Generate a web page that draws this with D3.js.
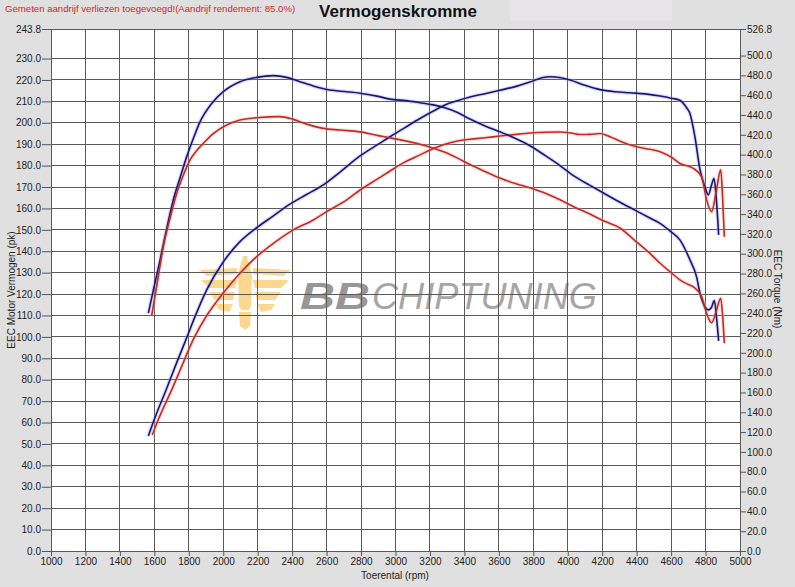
<!DOCTYPE html>
<html>
<head>
<meta charset="utf-8">
<script src="https://cdn.jsdelivr.net/npm/d3@7"></script>
<style>
html,body{margin:0;padding:0;background:#e0e0e0;}
svg{display:block;font-family:"Liberation Sans",Arial,sans-serif;}
</style>
</head>
<body>
<svg id="chart" width="795" height="587"></svg>
<script>
// ---------- DATA ----------
const rpmTicks = d3.range(1000, 5001, 200);
const pkTicks = d3.range(0, 231, 10).concat([243.8]);
const nmTicks = d3.range(0, 501, 20).concat([526.8]);

// Tuned (blue) power, pk
const bluePowerRpm = [1565,1600,1672,1720,1797,1826,1904,2000,2097,2194,2291,2387,2484,2581,2678,2794,2900,2968,3050,3142,3220,3287,3360,3432,3520,3606,3700,3780,3850,3900,3960,4013,4100,4187,4274,4361,4450,4536,4600,4651,4690,4709,4738,4768,4797,4816,4835,4849,4862,4876];
const bluePowerPk  = [53.7,61.5,76,86,101.5,107.5,122,135,144.5,151,156.5,162,166.5,171,177,184.5,190,193.5,197.5,202,205.5,208.3,210.3,212,213.6,215.2,217,219,221,221.5,221,220,217.5,215.5,214.5,214,213.5,212.5,211.5,210.5,207,204.4,193.5,178,170,166.3,171,174,165,147.6];

// Stock (red) power, pk
const redPowerRpm = [1588,1620,1710,1760,1826,1904,2000,2097,2194,2291,2407,2523,2600,2717,2794,2900,2968,3050,3142,3220,3287,3360,3432,3520,3606,3700,3780,3870,3955,4020,4071,4130,4187,4230,4274,4330,4390,4450,4536,4600,4651,4729,4777,4806,4835,4862,4888,4899,4909];
const redPowerPk  = [54.2,60.8,77,86.5,98.8,110,120.5,129.7,137.5,143.7,150,154.6,158.5,164,168.6,174,177.5,181.5,185,188,190,191.5,192.3,193,193.8,194.6,195.2,195.6,195.7,195.2,194.5,194.6,195,194,192.5,190.5,189,188,186.5,184,181,178.7,174.8,164,158.5,168,178,165,146.8];

// Tuned (blue) torque, Nm
const blueTorqueRpm = [1565,1600,1633,1670,1710,1750,1788,1830,1865,1933,2000,2097,2194,2291,2368,2445,2523,2620,2717,2794,2900,2968,3060,3142,3220,3287,3360,3432,3520,3606,3700,3780,3870,3955,4040,4129,4210,4303,4390,4477,4536,4600,4651,4709,4748,4768,4797,4816,4835,4851,4864,4876];
const blueTorqueNm  = [240,267.7,293.6,324,354.4,377,398,418,433,451.6,463.5,473.6,478,479.7,478,473.6,469.3,465.2,463.5,462,458.8,456,454.5,452.4,450.2,447.3,442.5,436,429,423,416,409,399,389,378,369,361,352,344,336,330.6,322,314,294,276.6,260,246.3,243.3,246,252.8,235,212];

// Stock (red) torque, Nm
const redTorqueRpm = [1585,1620,1652,1690,1730,1770,1807,1845,1884,1942,2020,2097,2194,2329,2407,2484,2581,2678,2794,2900,2968,3060,3142,3220,3287,3360,3432,3520,3606,3700,3780,3870,3955,4040,4129,4210,4303,4390,4477,4536,4600,4651,4700,4729,4777,4806,4835,4862,4888,4899,4909];
const redTorqueNm  = [238,274,307,335,361,380,394.6,404,411.4,421.3,430,435,437.3,438.4,435.6,430.8,426.5,424.8,423,419.2,417,413.8,410.5,406.5,402.5,396.5,390,383,376.4,370.6,366.5,361,354.4,347,340.1,333,326,313.3,300.3,290.4,281,273.6,269,266.6,256.7,239.8,230.3,242,255,237.7,209.6];

// ---------- LAYOUT ----------
const svg = d3.select("#chart");
const W = 795, H = 587;
const m = {left:51, right:740, top:29, bottom:551};

const x = d3.scaleLinear().domain([1000,5000]).range([m.left, m.right]);
const yPk = d3.scaleLinear().domain([0,243.8]).range([m.bottom, m.top]);
const yNm = d3.scaleLinear().domain([0,526.8]).range([m.bottom, m.top]);

svg.append("rect").attr("width",W).attr("height",H).attr("fill","#e0e0e0");
svg.append("rect").attr("x",510).attr("y",0).attr("width",162).attr("height",21).attr("fill","#e7e5e7");

// plot area
svg.append("rect").attr("x",m.left).attr("y",m.top)
  .attr("width",m.right-m.left).attr("height",m.bottom-m.top).attr("fill","#ffffff");

// ---------- WATERMARK ----------
const wm = svg.append("g").attr("class","watermark");
const em = wm.append("g").attr("transform","translate(245,296)").attr("fill","#fbd384").attr("opacity",0.9);
em.append("path").attr("d","M-46,-26 L-8,-28 L-8,-22 L-38,-20 Z");
em.append("path").attr("d","M46,-26 L8,-28 L8,-22 L38,-20 Z");
em.append("path").attr("d","M-44,-16 L-8,-16 L-10,-8 L-36,-8 Z");
em.append("path").attr("d","M44,-16 L8,-16 L10,-8 L36,-8 Z");
em.append("path").attr("d","M-36,-4 L-10,-4 L-12,4 L-30,4 Z");
em.append("path").attr("d","M36,-4 L10,-4 L12,4 L30,4 Z");
em.append("path").attr("d","M-30,8 L-12,8 L-16,16 L-26,14 Z");
em.append("path").attr("d","M30,8 L12,8 L16,16 L26,14 Z");
em.append("path").attr("d","M-4,-34 L4,-34 L7,-20 L6,10 L4,14 L-4,14 L-6,10 L-7,-20 Z");
em.append("path").attr("d","M-6,16 L6,16 L5,30 L0,34 L-5,30 Z");
em.append("path").attr("d","M-2,-40 L2,-40 L3,-34 L-3,-34 Z");
wm.append("text").attr("x",300).attr("y",309)
  .attr("font-size",37).attr("font-style","italic").attr("font-weight","bold")
  .attr("fill","#979797").attr("textLength",70).attr("lengthAdjust","spacingAndGlyphs")
  .text("BB");
wm.append("text").attr("x",372).attr("y",309)
  .attr("font-size",37).attr("font-style","italic")
  .attr("fill","#a6a6a6").attr("textLength",225).attr("lengthAdjust","spacingAndGlyphs")
  .text("CHIPTUNING");

// ---------- GRID ----------
const gridColor = "#5a5a5a";
const grid = svg.append("g").attr("stroke",gridColor).attr("stroke-width",1).attr("shape-rendering","crispEdges");
grid.selectAll("line.v").data(rpmTicks).join("line")
  .attr("x1",d=>x(d)).attr("x2",d=>x(d)).attr("y1",m.top).attr("y2",m.bottom);
grid.selectAll("line.h").data(pkTicks).join("line")
  .attr("x1",m.left).attr("x2",m.right).attr("y1",d=>yPk(d)).attr("y2",d=>yPk(d));

// ---------- AXES ----------
const fmt = d3.format(".1f");
const axL = svg.append("g").attr("transform",`translate(${m.left},0)`)
  .call(d3.axisLeft(yPk).tickValues(pkTicks).tickFormat(fmt).tickSize(9).tickPadding(1));
const axR = svg.append("g").attr("transform",`translate(${m.right},0)`)
  .call(d3.axisRight(yNm).tickValues(nmTicks).tickFormat(fmt).tickSize(6).tickPadding(1));
const axB = svg.append("g").attr("transform",`translate(0,${m.bottom})`)
  .call(d3.axisBottom(x).tickValues(rpmTicks).tickFormat(d3.format("d")).tickSize(5).tickPadding(2));
[axL,axR,axB].forEach(a=>{
  a.select(".domain").remove();
  a.selectAll(".tick line").attr("stroke","#555");
  a.selectAll(".tick text").attr("font-size",10).attr("fill","#222")
    .attr("font-family","'Liberation Sans',Arial,sans-serif");
});

// ---------- CURVES ----------
const lineGen = (ys) => d3.line().x(d=>x(d[0])).y(d=>ys(d[1])).curve(d3.curveMonotoneX);
const series = [
  {rpm: bluePowerRpm, v: bluePowerPk, ys: yPk, c:"#16167a", glow:"#9a9ad8"},
  {rpm: redPowerRpm, v: redPowerPk, ys: yPk, c:"#c42a22", glow:"#f4a8a8"},
  {rpm: blueTorqueRpm, v: blueTorqueNm, ys: yNm, c:"#16167a", glow:"#9a9ad8"},
  {rpm: redTorqueRpm, v: redTorqueNm, ys: yNm, c:"#c42a22", glow:"#f4a8a8"}
];
const cg = svg.append("g");
series.forEach(s=>{
  const pts = s.rpm.map((r,i)=>[r, s.v[i]]);
  cg.append("path").attr("d",lineGen(s.ys)(pts)).attr("fill","none")
    .attr("stroke",s.glow).attr("stroke-opacity",0.35).attr("stroke-width",4);
});
series.forEach(s=>{
  const pts = s.rpm.map((r,i)=>[r, s.v[i]]);
  cg.append("path").attr("d",lineGen(s.ys)(pts)).attr("fill","none")
    .attr("stroke",s.c).attr("stroke-width",1.6).attr("stroke-linejoin","round");
});

// ---------- TEXTS ----------
svg.append("text").attr("x",5).attr("y",12).attr("font-size",9.6).attr("fill","#cc2a2a")
  .text("Gemeten aandrijf verliezen toegevoegd!(Aandrijf rendement: 85.0%)");
svg.append("text").attr("x",398).attr("y",17).attr("text-anchor","middle")
  .attr("font-size",17).attr("font-weight","bold").attr("fill","#111")
  .text("Vermogenskromme");
svg.append("text").attr("x",395).attr("y",579).attr("text-anchor","middle")
  .attr("font-size",10).attr("fill","#222").text("Toerental (rpm)");
svg.append("text").attr("transform","translate(15,290) rotate(-90)").attr("text-anchor","middle")
  .attr("font-size",10).attr("fill","#222").text("EEC Motor Vermogen (pk)");
svg.append("text").attr("transform","translate(774,289) rotate(90)").attr("text-anchor","middle")
  .attr("font-size",10).attr("fill","#222").text("EEC Torque (Nm)");
</script>
</body>
</html>
